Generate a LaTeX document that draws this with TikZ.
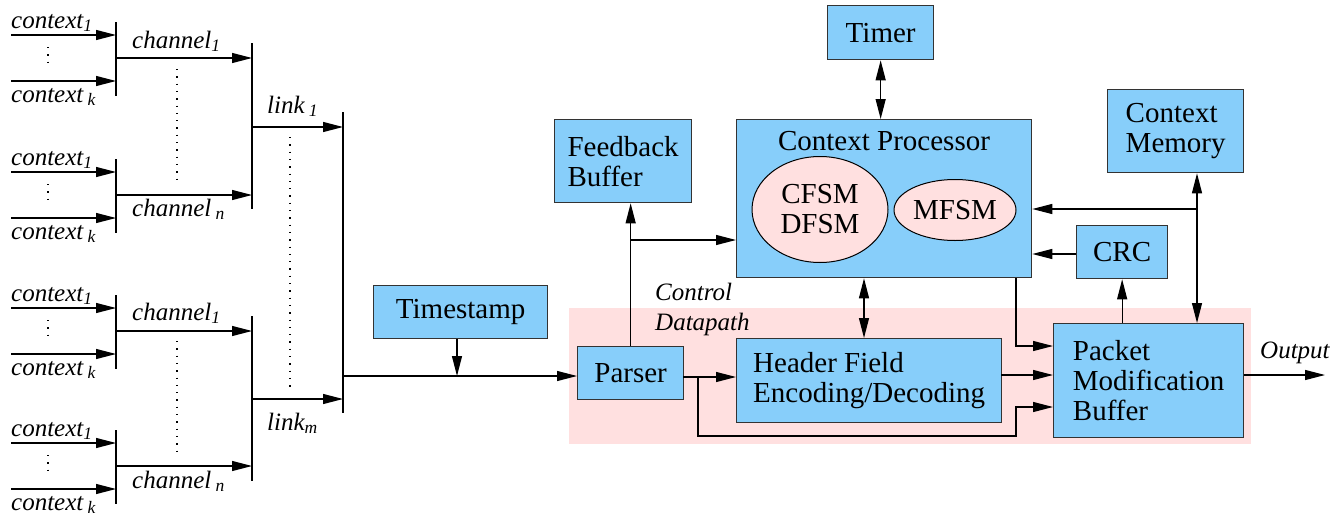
\documentclass[tikz,border=0pt]{standalone}
\usepackage{fontspec}
\setmainfont{Liberation Serif}
\usetikzlibrary{arrows.meta,shapes.geometric,calc}
\definecolor{boxblue}{RGB}{135,206,250}
\definecolor{dpink}{RGB}{255,224,224}
\definecolor{edge}{RGB}{51,51,51}

\begin{document}
\begin{tikzpicture}[x=1pt,y=-1pt,
  >={Triangle[length=20pt,width=10pt]},
  wire/.style={draw=black,line width=1.2pt},
  bar/.style={draw=black,line width=1.2pt},
  dots/.style={draw=black,line width=1.3pt,dash pattern=on 1.3pt off 6pt},
  block/.style={draw=edge,fill=boxblue,line width=1.3pt,inner sep=0pt,
    align=left,font=\fontsize{29}{30}\selectfont},
  fsm/.style={ellipse,draw=black,fill=dpink,line width=1pt,inner sep=0pt,
    align=center,font=\fontsize{29}{30}\selectfont},
  lab/.style={inner sep=0pt,font=\fontsize{25}{28}\selectfont\itshape},
  plain/.style={inner sep=0pt,font=\fontsize{29}{30}\selectfont}]

\useasboundingbox (0,0) rectangle (1338,522);

% datapath region
\fill[dpink] (569,308) rectangle (1251,444);

% ---------------- input multiplexing tree ----------------
\foreach \g/\ya/\yb in {1/35/81,2/172/218,3/308/354,4/443/489}{
  \coordinate (ci\g a) at (11,\ya);
  \coordinate (cb\g a) at (116,\ya);
  \coordinate (ci\g b) at (11,\yb);
  \coordinate (cb\g b) at (116,\yb);
  \coordinate (bar\g t) at (116,{\ya-13});
  \coordinate (bar\g b) at (116,{\yb+15});
  \coordinate (ch\g s) at (116,{(\ya+\yb)/2});
  \coordinate (ch\g e) at (252,{(\ya+\yb)/2});
  \draw[wire,->] (ci\g a) -- (cb\g a);
  \draw[wire,->] (ci\g b) -- (cb\g b);
  \draw[bar] (bar\g t) -- (bar\g b);
  \draw[dots] (48,{\ya+12}) -- (48,{\yb-13});
  \draw[wire,->] (ch\g s) -- (ch\g e);
  \node[lab,anchor=base west] (ctx\g a) at (11,{\ya-7}) {context\textsubscript{1}};
  \node[lab,anchor=base west] (ctx\g b) at (11,{\yb+21}) {context\,\textsubscript{k}};
}
% channel labels
\foreach \g/\y in {1/59,3/331}{
  \node[lab,anchor=base west] (chl\g) at (132,{\y-11}) {channel\textsubscript{1}};
}
\foreach \g/\y in {2/195,4/467}{
  \node[lab,anchor=base west] (chl\g) at (132,{\y+21}) {channel\,\textsubscript{n}};
}
\draw[dots] (177,69) -- (177,182);
\draw[dots] (177,341) -- (177,453);

% link level
\coordinate (l1t) at (252,43);  \coordinate (l1b) at (252,209);
\coordinate (l2t) at (252,316); \coordinate (l2b) at (252,481);
\draw[bar] (l1t) -- (l1b);
\draw[bar] (l2t) -- (l2b);
\coordinate (lk1s) at (252,127); \coordinate (lk1e) at (343,127);
\coordinate (lkms) at (252,399); \coordinate (lkme) at (343,399);
\draw[wire,->] (lk1s) -- (lk1e);
\draw[wire,->] (lkms) -- (lkme);
\node[lab,anchor=base west] (lk1l) at (267,113) {link\,\textsubscript{1}};
\node[lab,anchor=base west] (lkml) at (267,430) {link\textsubscript{m}};
\draw[dots] (290,137) -- (290,390);
\coordinate (b3t) at (343,112); \coordinate (b3b) at (343,413);
\draw[bar] (b3t) -- (b3b);
\coordinate (bus) at (343,376);

% ---------------- processing blocks ----------------
\node[block,anchor=north west,minimum width=106pt,minimum height=54pt] (timer) at (827,5) {Timer};
\node[block,anchor=north west,minimum width=137pt,minimum height=83pt] (fb) at (554,119) {Feedback\\Buffer};
\node[block,anchor=north west,minimum width=295pt,minimum height=158pt] (cp) at (736,119) {};
\node[plain] (cptitle) at (884,141) {Context Processor};
\node[fsm,minimum width=136pt,minimum height=106pt] (cfsm) at (820,209.5) {CFSM\\DFSM};
\node[fsm,minimum width=122pt,minimum height=61pt] (mfsm) at (955,210) {MFSM};
\node[block,anchor=north west,minimum width=136pt,minimum height=83pt] (cm) at (1107,89) {Context\\Memory};
\node[block,anchor=north west,minimum width=91pt,minimum height=53pt] (crc) at (1076,225) {CRC};
\node[block,anchor=north west,minimum width=174pt,minimum height=53pt] (ts) at (373,285) {Timestamp};
\node[block,anchor=north west,minimum width=106pt,minimum height=53pt] (parser) at (577,346) {Parser};
\node[block,anchor=north west,minimum width=265pt,minimum height=84pt] (hf) at (736,338) {Header Field\\Encoding/Decoding};
\node[block,anchor=north west,minimum width=190pt,minimum height=114pt] (pmb) at (1053,323) {Packet\\Modification\\Buffer};

\node[lab,anchor=base west] (ctrl) at (655,300) {Control};
\node[lab,anchor=base west] (dpath) at (655,330) {Datapath};
\node[lab,anchor=base west] (outl) at (1260,358) {Output};

% ---------------- connections ----------------
\draw[wire,->] (bus) -- (bus -| parser.west);
\coordinate (tsj) at (457,376);
\draw[wire,->] (ts.south -| tsj) -- (tsj);

\draw[wire,<->] (timer.south) -- (timer.south |- cp.north);

\draw[wire,->] (parser.north) -- (parser.north |- fb.south);
\coordinate (fbj) at (630,240);
\draw[wire,->] (fbj) -- (fbj -| cp.west);

\coordinate (hfx) at (864,0);
\draw[wire,<->] (cp.south -| hfx) -- (hf.north -| hfx);

\coordinate (pe) at (683,377);
\draw[wire,->] (pe) -- (pe -| hf.west);
\coordinate (byp) at (698,377);
\coordinate (bypb) at (698,436);
\coordinate (bypr) at (1016,436);
\coordinate (bypu) at (1016,407);
\draw[wire,->] (byp) -- (bypb) -- (bypr) -- (bypu) -- (bypu -| pmb.west);

\coordinate (hfo) at (1001,375);
\draw[wire,->] (hfo) -- (hfo -| pmb.west);

\coordinate (cpx) at (1016,346);
\draw[wire,->] (cp.south -| cpx) -- (cpx) -- (cpx -| pmb.west);

\coordinate (outp) at (1325,375);
\draw[wire,->] (pmb.east |- outp) -- (outp);

\draw[wire,->] (pmb.north -| crc.south) -- (crc.south);
\coordinate (crcj) at (1076,254);
\draw[wire,->] (crcj) -- (crcj -| cp.east);

\coordinate (cmx) at (1197,209);
\draw[wire,<->] (cm.south -| cmx) -- (pmb.north -| cmx);
\draw[wire,->] (cmx) -- (cmx -| cp.east);
\end{tikzpicture}
\end{document}
